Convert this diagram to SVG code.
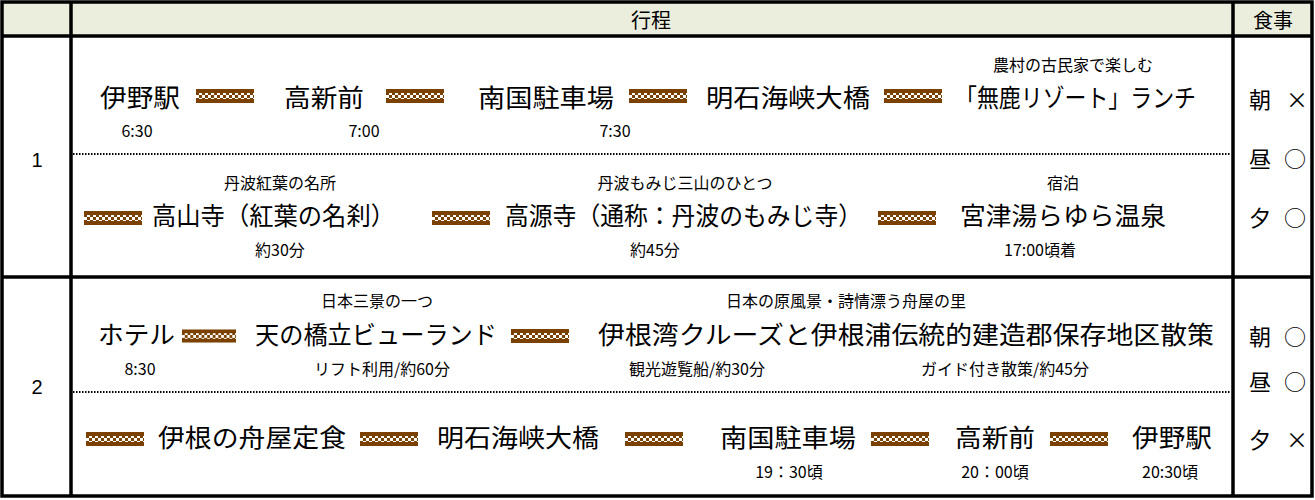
<svg xmlns="http://www.w3.org/2000/svg" width="1315" height="500" viewBox="0 0 1315 500">
<style>
.m{font-family:"Noto Sans CJK JP","Noto Sans",sans-serif;font-size:25px;fill:#000}
.s{font-family:"Noto Sans CJK JP","Liberation Sans",sans-serif;font-size:16px;fill:#000}
.c{text-anchor:middle}
.b{stroke:#000;stroke-width:3.5;fill:none}
.d{stroke:#000;stroke-width:2;stroke-dasharray:1.5 1.5}
</style>
<defs>
<pattern id="ck" width="6" height="6" patternUnits="userSpaceOnUse"><rect width="6" height="6" fill="#7a4100"/><rect width="3" height="3" fill="#fff"/><rect x="3" y="3" width="3" height="3" fill="#fff"/></pattern>
<symbol id="cn" viewBox="0 0 58 14" overflow="visible"><rect width="58" height="14" fill="#7a4100"/><rect y="4" width="58" height="6" fill="url(#ck)"/></symbol>
</defs>
<rect x="2" y="2" width="1310" height="34" fill="#ebeedd"/>
<g id="grid">
<rect class="b" x="2" y="2" width="1310" height="494"/>
<line class="b" x1="2" y1="36" x2="1312" y2="36"/>
<line class="b" x1="2" y1="277" x2="1312" y2="277"/>
<line class="b" x1="71" y1="2" x2="71" y2="496"/>
<line class="b" x1="1233" y1="2" x2="1233" y2="496"/>
<line class="d" x1="73" y1="154" x2="1231" y2="154"/>
<line class="d" x1="73" y1="392" x2="1231" y2="392"/>
</g>
<g id="headers">
<text class="m c" x="651" y="28" style="font-size:20px">行程</text>
<text class="m c" x="1273" y="28" style="font-size:20px">食事</text>
<text class="m c" x="37" y="167" style="font-size:20px;font-family:'Liberation Sans',sans-serif">1</text>
<text class="m c" x="37" y="394" style="font-size:20px;font-family:'Liberation Sans',sans-serif">2</text>
</g>
<g id="connectors">
<use href="#cn" x="196" y="89" width="58" height="14"/>
<use href="#cn" x="386" y="89" width="58" height="14"/>
<use href="#cn" x="629" y="89" width="58" height="14"/>
<use href="#cn" x="884" y="89" width="58" height="14"/>
<use href="#cn" x="84" y="211" width="58" height="14"/>
<use href="#cn" x="432" y="211" width="58" height="14"/>
<use href="#cn" x="878" y="211" width="58" height="14"/>
<use href="#cn" x="182" y="329" width="54" height="14"/>
<use href="#cn" x="511" y="329" width="58" height="14"/>
<use href="#cn" x="86" y="432" width="58" height="14"/>
<use href="#cn" x="360" y="432" width="58" height="14"/>
<use href="#cn" x="625" y="432" width="58" height="14"/>
<use href="#cn" x="871" y="432" width="58" height="14"/>
<use href="#cn" x="1050" y="432" width="58" height="14"/>
</g>
<g id="day1">
<text class="m" x="100" y="107" textLength="80" lengthAdjust="spacingAndGlyphs">伊野駅</text>
<text class="m" x="284" y="107" textLength="80" lengthAdjust="spacingAndGlyphs">高新前</text>
<text class="m" x="478" y="107" textLength="136" lengthAdjust="spacingAndGlyphs">南国駐車場</text>
<text class="m" x="706" y="107" textLength="164" lengthAdjust="spacingAndGlyphs">明石海峡大橋</text>
<text class="m" x="955" y="107" textLength="241" lengthAdjust="spacingAndGlyphs">「無鹿リゾート」ランチ</text>
<text class="s c" x="1073" y="71">農村の古民家で楽しむ</text>
<text class="s c" x="137" y="137">6:30</text>
<text class="s c" x="364" y="137">7:00</text>
<text class="s c" x="615" y="137">7:30</text>
<text class="m" x="152" y="225" textLength="243" lengthAdjust="spacingAndGlyphs">高山寺（紅葉の名刹）</text>
<text class="m" x="505" y="225" textLength="357" lengthAdjust="spacingAndGlyphs">高源寺（通称：丹波のもみじ寺）</text>
<text class="m" x="960" y="225" textLength="206" lengthAdjust="spacingAndGlyphs">宮津湯らゆら温泉</text>
<text class="s c" x="280" y="189">丹波紅葉の名所</text>
<text class="s c" x="685" y="189">丹波もみじ三山のひとつ</text>
<text class="s c" x="1063" y="189">宿泊</text>
<text class="s c" x="280" y="256">約30分</text>
<text class="s c" x="655" y="256">約45分</text>
<text class="s c" x="1040" y="256">17:00頃着</text>
</g>
<g id="day2">
<text class="m" x="98" y="344" textLength="77" lengthAdjust="spacingAndGlyphs">ホテル</text>
<text class="m" x="255" y="344" textLength="242" lengthAdjust="spacingAndGlyphs">天の橋立ビューランド</text>
<text class="m" x="598" y="344" textLength="616" lengthAdjust="spacingAndGlyphs">伊根湾クルーズと伊根浦伝統的建造郡保存地区散策</text>
<text class="s c" x="377" y="307">日本三景の一つ</text>
<text class="s c" x="846" y="307">日本の原風景・詩情漂う舟屋の里</text>
<text class="s c" x="140" y="375">8:30</text>
<text class="s c" x="382" y="375">リフト利用/約60分</text>
<text class="s c" x="697" y="375">観光遊覧船/約30分</text>
<text class="s c" x="1005" y="375">ガイド付き散策/約45分</text>
<text class="m" x="158" y="447" textLength="188" lengthAdjust="spacingAndGlyphs">伊根の舟屋定食</text>
<text class="m" x="437" y="447" textLength="162" lengthAdjust="spacingAndGlyphs">明石海峡大橋</text>
<text class="m" x="720" y="447" textLength="136" lengthAdjust="spacingAndGlyphs">南国駐車場</text>
<text class="m" x="955" y="447" textLength="80" lengthAdjust="spacingAndGlyphs">高新前</text>
<text class="m" x="1132" y="447" textLength="80" lengthAdjust="spacingAndGlyphs">伊野駅</text>
<text class="s c" x="789" y="478">19：30頃</text>
<text class="s c" x="995" y="478">20：00頃</text>
<text class="s c" x="1170" y="478">20:30頃</text>
</g>
<g id="meals">
<text class="m" x="1249" y="108" style="font-size:22px">朝</text><text class="m" x="1286" y="108" style="font-size:22px">×</text>
<text class="m" x="1249" y="167" style="font-size:22px">昼</text><text class="m" x="1284" y="167" style="font-size:22px">○</text>
<text class="m" x="1249" y="226" style="font-size:22px">夕</text><text class="m" x="1284" y="226" style="font-size:22px">○</text>
<text class="m" x="1249" y="345" style="font-size:22px">朝</text><text class="m" x="1284" y="345" style="font-size:22px">○</text>
<text class="m" x="1249" y="390" style="font-size:22px">昼</text><text class="m" x="1284" y="390" style="font-size:22px">○</text>
<text class="m" x="1249" y="448" style="font-size:22px">夕</text><text class="m" x="1286" y="448" style="font-size:22px">×</text>
</g>
</svg>
